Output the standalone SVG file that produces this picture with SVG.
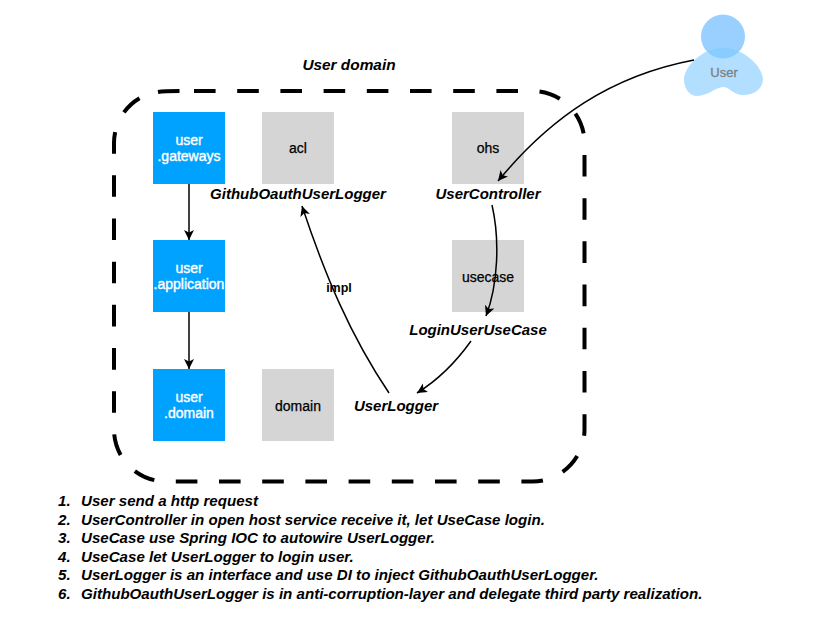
<svg xmlns="http://www.w3.org/2000/svg" width="821" height="632" viewBox="0 0 821 632">
<style>
text{font-family:"Liberation Sans",Arial,sans-serif;fill:#000}
.b{fill:#00a2ff}.g{fill:#d5d5d5}
.w{fill:#fff;font-size:14px;font-weight:400;text-anchor:middle;stroke:#fff;stroke-width:.4}
.d{font-size:14px;font-weight:400;text-anchor:middle;stroke:#000;stroke-width:.25}
.t{font-size:15px;font-weight:700;font-style:italic;text-anchor:middle}
.l{font-size:15.1px;font-weight:700;font-style:italic}
.c{fill:none;stroke:#000;stroke-width:1.5}
</style>
<defs><marker id="a" markerUnits="userSpaceOnUse" markerWidth="14" markerHeight="12" refX="10" refY="5" orient="auto"><path d="M0 0L10 5L0 10L2.5 5Z" fill="#000"/></marker></defs>
<g id="domain-boundary"><path d="M194 91H532.500A52 52 0 0 1 584.500 143V429.500A52 52 0 0 1 532.500 481.500H166A52 52 0 0 1 114 429.500V143A52 52 0 0 1 139.500 98.300M158 92Q164 91 180 91" fill="none" stroke="#000" stroke-width="4" stroke-dasharray="21.6 21.6"/></g>
<text class="t" style="font-size:15.4px" x="349" y="70">User domain</text>
<g id="user-gateways"><rect class="b" x="153" y="112" width="72" height="72"/><text class="w" x="189" y="145">user</text><text class="w" x="189" y="161">.gateways</text></g>
<g id="user-application"><rect class="b" x="153" y="240" width="72" height="72"/><text class="w" x="189" y="273">user</text><text class="w" x="189" y="289">.application</text></g>
<g id="user-domain"><rect class="b" x="153" y="369" width="72" height="72"/><text class="w" x="189" y="402">user</text><text class="w" x="189" y="418">.domain</text></g>
<g id="acl"><rect class="g" x="262" y="112" width="72" height="72"/><text class="d" x="298" y="153">acl</text></g>
<g id="ohs"><rect class="g" x="452" y="112" width="72" height="72"/><text class="d" x="488" y="153">ohs</text></g>
<g id="usecase"><rect class="g" x="452" y="240" width="72" height="72"/><text class="d" x="488" y="282">usecase</text></g>
<g id="domain"><rect class="g" x="262" y="369" width="72" height="72"/><text class="d" x="298" y="411">domain</text></g>
<g id="user"><ellipse cx="723" cy="36.500" rx="22" ry="22" fill="#80c4ff" opacity=".8"/><path d="M723 48C744 48 762 66 763 79C763 90 752 96 741 95C733 94 729 87 723 87C716 87 708 96 697 96C689 96 684 88 684 79C685 66 702 48 723 48Z" fill="#7fcaff" opacity=".6"/><text x="724" y="77" font-size="13px" text-anchor="middle" stroke="#7f7f7f" stroke-width=".3" style="fill:#7f7f7f">User</text></g>
<g id="connectors">
<path class="c" d="M189 184V240" marker-end="url(#a)"/>
<path class="c" d="M189 312V369" marker-end="url(#a)"/>
<path class="c" d="M694 60C610 76 550 118 498 181" marker-end="url(#a)"/>
<path class="c" d="M492 205C500 240 498 285 486 316" marker-end="url(#a)"/>
<path class="c" d="M471 341C456 362 438 380 417 393" marker-end="url(#a)"/>
<path class="c" d="M389 393C350 335 325 275 302 206" marker-end="url(#a)"/>
<text x="339" y="292" font-size="12.500px" font-weight="700" text-anchor="middle">impl</text>
</g>
<text class="t" x="298" y="199">GithubOauthUserLogger</text>
<text class="t" x="488" y="199">UserController</text>
<text class="t" x="478" y="335">LoginUserUseCase</text>
<text class="t" x="396" y="411">UserLogger</text>
<g>
<text class="l" x="58" y="506">1.</text><text class="l" x="81" y="506">User send a http request</text>
<text class="l" x="58" y="525">2.</text><text class="l" x="81" y="525">UserController in open host service receive it, let UseCase login.</text>
<text class="l" x="58" y="543">3.</text><text class="l" x="81" y="543">UseCase use Spring IOC to autowire UserLogger.</text>
<text class="l" x="58" y="562">4.</text><text class="l" x="81" y="562">UseCase let UserLogger to login user.</text>
<text class="l" x="58" y="580">5.</text><text class="l" x="81" y="580">UserLogger is an interface and use DI to inject GithubOauthUserLogger.</text>
<text class="l" x="58" y="599">6.</text><text class="l" x="81" y="599">GithubOauthUserLogger is in anti-corruption-layer and delegate third party realization.</text>
</g>
</svg>
